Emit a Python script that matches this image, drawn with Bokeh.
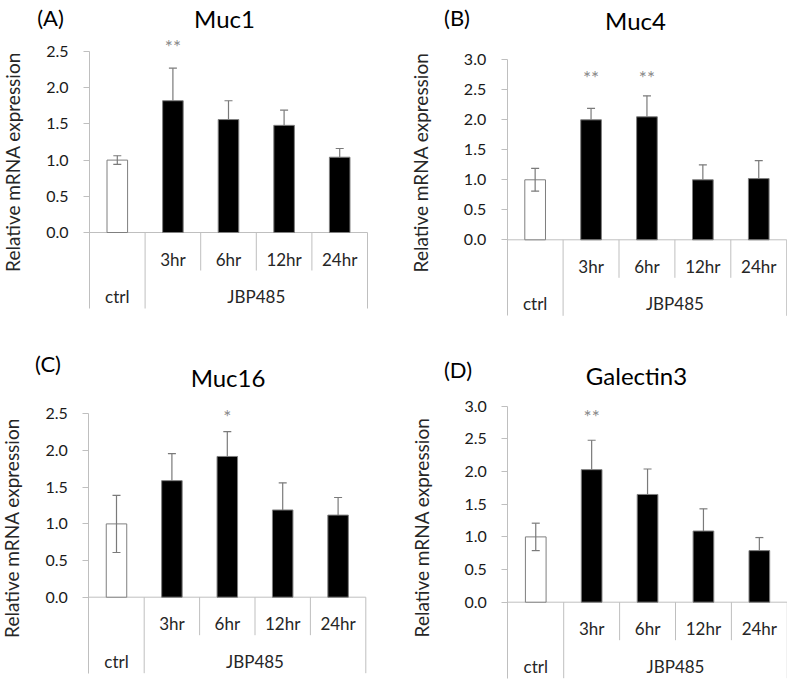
import numpy as np
from bokeh.plotting import figure
from bokeh.models import Range1d, FixedTicker, PrintfTickFormatter, Label, ColumnDataSource
from bokeh.layouts import row, column
from bokeh.embed import file_html
from bokeh.resources import INLINE
from bokeh.core.properties import value

# ---------------- data ----------------
categories = ["ctrl", "3hr", "6hr", "12hr", "24hr"]
category_group = ["ctrl", "JBP485", "JBP485", "JBP485", "JBP485"]
sub_labels = ["", "3hr", "6hr", "12hr", "24hr"]
panel_tags = ["(A)", "(B)", "(C)", "(D)"]
panel_titles = ["Muc1", "Muc4", "Muc16", "Galectin3"]
y_label = "Relative mRNA expression"

muc1_mean = [1.00, 1.82, 1.56, 1.48, 1.04]
muc1_err = [0.06, 0.45, 0.26, 0.21, 0.12]
muc4_mean = [1.00, 2.00, 2.05, 1.00, 1.02]
muc4_err = [0.19, 0.19, 0.35, 0.25, 0.30]
muc16_mean = [1.00, 1.59, 1.92, 1.19, 1.12]
muc16_err = [0.39, 0.37, 0.34, 0.37, 0.24]
gal3_mean = [1.00, 2.03, 1.65, 1.09, 0.79]
gal3_err = [0.21, 0.45, 0.39, 0.34, 0.20]

y_max = [2.5, 3.0, 2.5, 3.0]
sig_marks = [["", "**", "", "", ""],
             ["", "**", "**", "", ""],
             ["", "", "*", "", ""],
             ["", "**", "", "", ""]]
sig_level = [2.62, 2.77, 2.52, 2.90]

means = [muc1_mean, muc4_mean, muc16_mean, gal3_mean]
errs = [muc1_err, muc4_err, muc16_err, gal3_err]

# ---------------- layout (pixels, local to each panel) ----------------
FIG_W = [393, 394, 393, 394]
FIG_H = [338, 338, 341, 341]
AXIS_X = [89, 113.7, 88.3, 114.3]
ZERO_Y = [232, 239.3, 258.7, 263.7]
PPU = [72.4, 60.0, 73.3, 65.3]
CAT_W = [55.6, 55.9, 55.4, 55.9]
TITLE_POS = [(224, 18), (242, 20), (227.5, 39), (243, 37)]
TAG_POS = [(50, 16.5), (63.5, 16.5), (47.5, 24.5), (64.5, 31)]
YLAB_POS = [(12, 161.5), (27, 162), (11, 189.5), (28, 189)]

INNER_DROP = 38
OUTER_DROP = 76
SUB_DROP = 26.5
GROUP_DROP = 64
BAR_W = 0.37
CAP_HALF_PX = 4

FONT = "Lato"
TXT = "#262626"
GRAY = "#bfbfbf"
ERR = "#7a7a7a"


def make_panel(k):
    W, H, AX, ZY, ppu, cw = FIG_W[k], FIG_H[k], AXIS_X[k], ZERO_Y[k], PPU[k], CAT_W[k]

    def dx(lx):
        return (lx - AX) / cw

    def dy(ly):
        return (ZY - ly) / ppu

    p = figure(width=W, height=H,
               x_range=Range1d(-AX / cw, (W - AX) / cw),
               y_range=Range1d(-(H - ZY) / ppu, ZY / ppu),
               output_backend="svg", toolbar_location=None, tools="",
               x_axis_location=None, y_axis_location="left",
               min_border_left=0, min_border_right=0,
               min_border_top=0, min_border_bottom=0,
               outline_line_color=None, background_fill_color="white",
               border_fill_color="white")
    p.xgrid.visible = False
    p.ygrid.visible = False

    ax = p.yaxis[0]
    ax.fixed_location = 0
    ax.ticker = FixedTicker(ticks=list(np.arange(0, y_max[k] + 0.01, 0.5)))
    ax.formatter = PrintfTickFormatter(format="%.1f")
    ax.bounds = (-OUTER_DROP / ppu, y_max[k])
    ax.axis_line_color = GRAY
    ax.major_tick_line_color = GRAY
    ax.major_tick_out = 6
    ax.major_tick_in = 0
    ax.minor_tick_line_color = None
    ax.major_label_standoff = 15
    ax.major_label_text_font = FONT
    ax.major_label_text_font_size = "16px"
    ax.major_label_text_color = "#1a1a1a"

    n = len(categories)
    xc = np.arange(n) + 0.5
    mean = np.array(means[k])
    err = np.array(errs[k])
    is_ctrl = np.array([g == "ctrl" for g in category_group])

    # category axis lines
    p.segment(x0=[0], y0=[0], x1=[n], y1=[0], line_color=GRAY, line_width=1)
    bx = np.arange(1, n + 1)
    outer = [(b == n) or (category_group[b - 1] != category_group[b]) for b in bx]
    drops = [-(OUTER_DROP if o else INNER_DROP) / ppu for o in outer]
    p.segment(x0=bx, y0=np.zeros(n), x1=bx, y1=drops, line_color=GRAY, line_width=1)

    # bars
    src = ColumnDataSource(dict(x=xc, top=mean,
                                fill=["white" if c else "black" for c in is_ctrl]))
    p.vbar(x="x", top="top", bottom=0, width=BAR_W, source=src,
           fill_color="fill", line_color="#7f7f7f", line_width=1)

    # error bars
    upper = mean + err
    lower = np.where(is_ctrl, mean - err, mean)
    hw = CAP_HALF_PX / cw
    p.segment(x0=xc, y0=lower, x1=xc, y1=upper, line_color=ERR, line_width=1.2)
    p.segment(x0=xc - hw, y0=upper, x1=xc + hw, y1=upper, line_color=ERR, line_width=1.2)
    p.segment(x0=(xc - hw)[is_ctrl], y0=lower[is_ctrl], x1=(xc + hw)[is_ctrl],
              y1=lower[is_ctrl], line_color=ERR, line_width=1.2)

    # significance marks
    sm = sig_marks[k]
    sx = [xc[i] for i in range(n) if sm[i]]
    st = [sm[i] for i in range(n) if sm[i]]
    p.text(x=sx, y=[sig_level[k]] * len(sx), text=st, text_align="center",
           text_baseline="middle", y_offset=4, text_font=value(FONT),
           text_font_size="19px", text_color="#888888")

    # category labels
    sub_x = [xc[i] for i in range(n) if sub_labels[i]]
    sub_t = [sub_labels[i] for i in range(n) if sub_labels[i]]
    p.text(x=sub_x, y=[-SUB_DROP / ppu] * len(sub_x), text=sub_t,
           text_align="center", text_baseline="middle", text_font=value(FONT),
           text_font_size="17px", text_color=TXT)
    groups = []
    for i, g in enumerate(category_group):
        if not groups or groups[-1][0] != g:
            groups.append([g, i, i + 1])
        else:
            groups[-1][2] = i + 1
    p.text(x=[(a + b) / 2 for _, a, b in groups], y=[-GROUP_DROP / ppu] * len(groups),
           text=[g for g, _, _ in groups], text_align="center", text_baseline="middle",
           text_font=value(FONT), text_font_size="17px", text_color=TXT)

    # title, tag, y label
    tx, ty = TITLE_POS[k]
    p.add_layout(Label(x=dx(tx), y=dy(ty), text=panel_titles[k], text_align="center",
                       text_baseline="alphabetic", text_font=FONT,
                       text_font_size="24px", text_color="black"))
    gx, gy = TAG_POS[k]
    p.add_layout(Label(x=dx(gx), y=dy(gy), text=panel_tags[k], text_align="center",
                       text_baseline="middle", text_font=FONT,
                       text_font_size="22px", text_color="black"))
    lx, ly = YLAB_POS[k]
    p.add_layout(Label(x=dx(lx), y=dy(ly), text=y_label, angle=np.pi / 2,
                       text_align="center", text_baseline="middle", text_font=FONT,
                       text_font_size="19px", text_color=TXT))
    return p


panels = [make_panel(k) for k in range(4)]
layout = column(row(panels[0], panels[1]), row(panels[2], panels[3]))
open("out.html", "w").write(file_html(layout, INLINE))
